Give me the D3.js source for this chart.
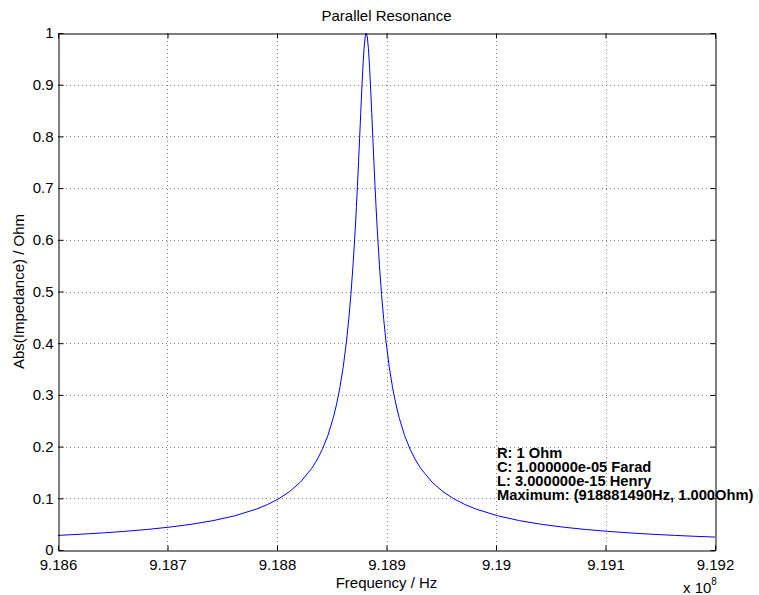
<!DOCTYPE html>
<html>
<head>
<meta charset="utf-8">
<script src="https://cdn.jsdelivr.net/npm/d3@7/dist/d3.min.js"></script>
<style>
  html, body { margin: 0; padding: 0; background: #fff; }
  svg { display: block; font-family: "Liberation Sans", Arial, Helvetica, sans-serif; }
</style>
</head>
<body>
<svg id="chart" width="759" height="595"></svg>
<script>
// Frequency (units of 1e8 Hz) and |Z| (Ohm)
const frequency = [
  9.1860000, 9.1862149, 9.1864149, 9.1866149, 9.1868149, 9.1870149, 9.1872149, 9.1874149,
  9.1876149, 9.1878149, 9.1879149, 9.1880149, 9.1881149, 9.1882149, 9.1883149, 9.1883649,
  9.1884149, 9.1884649, 9.1885149, 9.1885449, 9.1885749, 9.1886049, 9.1886349, 9.1886549,
  9.1886749, 9.1886949, 9.1887149, 9.1887249, 9.1887349, 9.1887449, 9.1887549, 9.1887649,
  9.1887749, 9.1887849, 9.1887949, 9.1888049, 9.1888149, 9.1888249, 9.1888349, 9.1888449,
  9.1888549, 9.1888649, 9.1888749, 9.1888849, 9.1888949, 9.1889049, 9.1889149, 9.1889349,
  9.1889549, 9.1889749, 9.1889949, 9.1890249, 9.1890549, 9.1890849, 9.1891149, 9.1891649,
  9.1892149, 9.1892649, 9.1893149, 9.1894149, 9.1895149, 9.1896149, 9.1897149, 9.1898149,
  9.1900149, 9.1902149, 9.1904149, 9.1906149, 9.1908149, 9.1910149, 9.1912149, 9.1914149,
  9.1916298, 9.1918149, 9.1920000
];
const impedance = [
  0.02826, 0.03059, 0.03314, 0.03615, 0.03976, 0.04417, 0.04967, 0.05675,
  0.06617, 0.07933, 0.08808, 0.09898, 0.11296, 0.13148, 0.15718, 0.17413,
  0.19511, 0.22173, 0.25641, 0.28273, 0.31472, 0.35436, 0.40435, 0.44532,
  0.49416, 0.55266, 0.62268, 0.66239, 0.70522, 0.75085, 0.79847, 0.84673,
  0.89347, 0.93571, 0.96983, 0.99219, 1.00000, 0.99219, 0.96983, 0.93571,
  0.89347, 0.84673, 0.79847, 0.75085, 0.70522, 0.66239, 0.62268, 0.55266,
  0.49416, 0.44532, 0.40435, 0.35436, 0.31472, 0.28273, 0.25641, 0.22173,
  0.19511, 0.17413, 0.15718, 0.13148, 0.11296, 0.09898, 0.08808, 0.07933,
  0.06617, 0.05675, 0.04967, 0.04417, 0.03976, 0.03615, 0.03314, 0.03059,
  0.02826, 0.02652, 0.02498
];
const xTicks = [9.186, 9.187, 9.188, 9.189, 9.19, 9.191, 9.192];
const xTickLabels = ["9.186", "9.187", "9.188", "9.189", "9.19", "9.191", "9.192"];
const yTicks = [0, 0.1, 0.2, 0.3, 0.4, 0.5, 0.6, 0.7, 0.8, 0.9, 1];
const yTickLabels = ["0", "0.1", "0.2", "0.3", "0.4", "0.5", "0.6", "0.7", "0.8", "0.9", "1"];
const titleText = "Parallel Resonance";
const xLabelText = "Frequency / Hz";
const yLabelText = "Abs(Impedance) / Ohm";
const annotationLines = [
  "R: 1 Ohm",
  "C: 1.000000e-05 Farad",
  "L: 3.000000e-15 Henry",
  "Maximum: (918881490Hz, 1.000Ohm)"
];

const svg = d3.select("#chart");
const pLeft = 58, pRight = 715, pTop = 33, pBottom = 550;

const x = d3.scaleLinear().domain([9.186, 9.192]).range([pLeft, pRight]);
const y = d3.scaleLinear().domain([0, 1]).range([pBottom, pTop]);

// grid
const grid = svg.append("g").attr("stroke", "#808080").attr("stroke-width", 1)
  .attr("stroke-dasharray", "1,3").attr("shape-rendering", "crispEdges");
grid.selectAll("line.gx").data(xTicks.slice(1, -1)).join("line")
  .attr("x1", d => Math.round(x(d)) + 0.5).attr("x2", d => Math.round(x(d)) + 0.5)
  .attr("y1", pTop).attr("y2", pBottom);
grid.selectAll("line.gy").data(yTicks.slice(1, -1)).join("line")
  .attr("y1", d => Math.round(y(d)) + 0.5).attr("y2", d => Math.round(y(d)) + 0.5)
  .attr("x1", pLeft).attr("x2", pRight);

// curve
const line = d3.line().x((d, i) => x(frequency[i])).y((d, i) => y(impedance[i]));
svg.append("path").datum(impedance)
  .attr("fill", "none").attr("stroke", "#0000ff").attr("stroke-width", 1)
  .attr("d", line);

// axes
function styleAxis(g) {
  g.attr("font-family", null).attr("font-size", null);
  g.selectAll("path.domain").attr("stroke", "#000");
  g.selectAll(".tick line").attr("stroke", "#000");
  g.selectAll("text").attr("fill", "#000").attr("font-size", "15px");
}
const tickLen = 5;
svg.append("g").attr("transform", `translate(0,${pBottom + 0.5})`)
  .call(d3.axisBottom(x).tickValues(xTicks).tickFormat((d, i) => xTickLabels[i])
    .tickSizeInner(-tickLen).tickSizeOuter(0).tickPadding(9))
  .call(styleAxis);
svg.append("g").attr("transform", `translate(0,${pTop + 0.5})`)
  .call(d3.axisTop(x).tickValues(xTicks).tickFormat("")
    .tickSizeInner(-tickLen).tickSizeOuter(0))
  .call(styleAxis);
svg.append("g").attr("transform", `translate(${pLeft + 0.5},0)`)
  .call(d3.axisLeft(y).tickValues(yTicks).tickFormat((d, i) => yTickLabels[i])
    .tickSizeInner(-tickLen).tickSizeOuter(0).tickPadding(5))
  .call(styleAxis);
svg.append("g").attr("transform", `translate(${pRight + 0.5},0)`)
  .call(d3.axisRight(y).tickValues(yTicks).tickFormat("")
    .tickSizeInner(-tickLen).tickSizeOuter(0))
  .call(styleAxis);

// title and labels
svg.append("text").attr("x", (pLeft + pRight) / 2).attr("y", 21)
  .attr("text-anchor", "middle").attr("font-size", "15px").text(titleText);
svg.append("text").attr("x", (pLeft + pRight) / 2).attr("y", 588)
  .attr("text-anchor", "middle").attr("font-size", "15px").text(xLabelText);
svg.append("text").attr("transform", `translate(23.5,${(pTop + pBottom) / 2}) rotate(-90)`)
  .attr("text-anchor", "middle").attr("font-size", "15px").text(yLabelText);

// exponent
const ex = svg.append("text").attr("x", 683).attr("y", 593).attr("font-size", "15px");
ex.append("tspan").text("x 10");
ex.append("tspan").attr("dy", -8).attr("font-size", "10px").text("8");

// annotation
const ann = svg.append("text").attr("font-size", "14.7px").attr("font-weight", "bold");
ann.selectAll("tspan").data(annotationLines).join("tspan")
  .attr("x", 497).attr("y", (d, i) => 457.5 + i * 14.2).text(d => d);
</script>
</body>
</html>
